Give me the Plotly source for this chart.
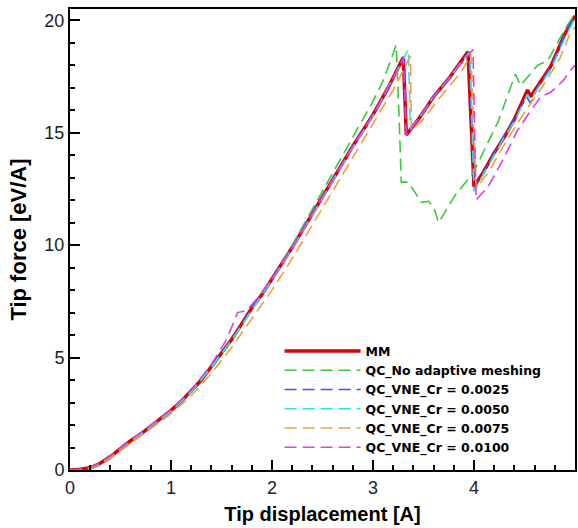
import plotly.graph_objects as go

# ---- data ----
mm_x = [0, 0.1, 0.2, 0.3, 0.4, 0.5, 0.6, 0.7, 0.8, 0.9, 1.0, 1.1, 1.2, 1.3, 1.4, 1.5, 1.6, 1.7, 1.8, 1.9,
        2.0, 2.2, 2.4, 2.6, 2.8, 3.0, 3.15, 3.30, 3.33, 3.45, 3.6, 3.75, 3.85, 3.94, 4.0, 4.1, 4.2, 4.3,
        4.4, 4.53, 4.56, 4.65, 4.76, 4.9, 5.0]
mm_y = [0, 0.03, 0.1, 0.3, 0.6, 0.95, 1.3, 1.6, 1.95, 2.3, 2.65, 3.05, 3.5, 4.0, 4.6, 5.2, 5.8, 6.5, 7.2, 7.8,
        8.5, 9.9, 11.4, 12.9, 14.4, 15.8, 17.0, 18.35, 14.9, 15.6, 16.6, 17.4, 18.0, 18.6, 12.6, 13.3, 14.1, 14.8,
        15.6, 16.9, 16.6, 17.2, 17.95, 19.4, 20.2]

no_x = [0, 0.2, 0.3, 0.4, 0.5, 0.6, 0.7, 0.8, 0.9, 1.0, 1.2, 1.4, 1.6, 1.8, 2.0, 2.2, 2.4, 2.6, 2.8, 3.0,
        3.1, 3.23, 3.26, 3.28, 3.35, 3.42, 3.48, 3.55, 3.6, 3.65, 3.81, 3.99, 4.24, 4.41, 4.46, 4.63, 4.73,
        4.9, 5.0]
no_y = [0, 0.05, 0.2, 0.5, 0.85, 1.2, 1.55, 1.9, 2.25, 2.6, 3.45, 4.55, 5.75, 7.1, 8.5, 10.0, 11.6, 13.2, 14.8, 16.4,
        17.3, 18.9, 15.5, 12.8, 12.8, 12.3, 11.9, 11.95, 11.7, 11.0, 12.2, 13.2, 15.5, 17.6, 17.1, 18.0, 18.2,
        19.6, 20.3]

c25_x = [0, 0.1, 0.2, 0.3, 0.4, 0.5, 0.6, 0.7, 0.8, 0.9, 1.0, 1.2, 1.4, 1.6, 1.8, 2.0, 2.2, 2.4, 2.6, 2.8,
         3.0, 3.15, 3.31, 3.33, 3.45, 3.6, 3.75, 3.85, 3.95, 4.0, 4.1, 4.2, 4.3, 4.4, 4.52, 4.56, 4.65, 4.76,
         4.9, 5.0]
c25_y = [0, 0.03, 0.1, 0.3, 0.62, 0.95, 1.28, 1.62, 1.95, 2.3, 2.62, 3.5, 4.6, 5.8, 7.15, 8.5, 9.9, 11.4, 12.9, 14.4,
         15.8, 17.0, 18.4, 14.9, 15.6, 16.6, 17.35, 18.0, 18.6, 12.5, 13.3, 14.1, 14.9, 15.6, 16.6, 16.3, 17.2, 17.9,
         19.4, 20.2]

c50_x = [0, 0.1, 0.2, 0.3, 0.4, 0.5, 0.6, 0.7, 0.8, 0.9, 1.0, 1.2, 1.4, 1.6, 1.8, 2.0, 2.2, 2.4, 2.6, 2.8,
         3.0, 3.2, 3.35, 3.37, 3.45, 3.6, 3.75, 3.85, 3.96, 4.0, 4.1, 4.2, 4.3, 4.4, 4.53, 4.56, 4.65, 4.76,
         4.9, 5.0]
c50_y = [0, 0.02, 0.1, 0.28, 0.6, 0.92, 1.28, 1.6, 1.95, 2.28, 2.62, 3.48, 4.58, 5.78, 7.1, 8.45, 9.85, 11.35, 12.85, 14.35,
         15.75, 17.4, 18.7, 15.2, 15.6, 16.6, 17.4, 18.0, 18.6, 12.4, 13.2, 14.0, 14.8, 15.5, 16.7, 16.5, 17.1, 17.8,
         19.2, 20.1]

c75_x = [0, 0.1, 0.2, 0.3, 0.4, 0.5, 0.6, 0.7, 0.8, 0.9, 1.0, 1.2, 1.4, 1.6, 1.8, 2.0, 2.2, 2.4, 2.6, 2.8,
         3.0, 3.2, 3.37, 3.38, 3.5, 3.65, 3.8, 3.9, 3.97, 4.02, 4.15, 4.33, 4.5, 4.7, 4.85, 4.95, 5.0]
c75_y = [0, 0.02, 0.08, 0.25, 0.52, 0.85, 1.2, 1.5, 1.85, 2.2, 2.5, 3.3, 4.3, 5.45, 6.7, 8.0, 9.4, 10.9, 12.4, 13.9,
         15.4, 16.9, 18.4, 15.1, 15.6, 16.5, 17.3, 17.9, 18.5, 12.5, 13.3, 14.7, 15.9, 17.2, 18.3, 19.4, 19.7]

c100_x = [0, 0.1, 0.2, 0.3, 0.4, 0.5, 0.6, 0.7, 0.8, 0.9, 1.0, 1.2, 1.4, 1.55, 1.66, 1.75, 1.85, 2.0, 2.2, 2.4,
          2.6, 2.8, 3.0, 3.15, 3.30, 3.33, 3.45, 3.6, 3.75, 3.88, 3.99, 4.02, 4.14, 4.3, 4.43, 4.55, 4.66, 4.76,
          4.88, 4.96, 5.0]
c100_y = [0, 0.03, 0.12, 0.32, 0.62, 0.98, 1.32, 1.65, 2.0, 2.32, 2.68, 3.55, 4.7, 5.8, 7.0, 7.1, 7.6, 8.5, 9.9, 11.4,
          12.9, 14.4, 15.8, 17.0, 18.3, 14.9, 15.6, 16.6, 17.4, 18.1, 18.7, 12.0, 12.6, 13.9, 15.1, 15.9, 16.6, 16.8,
          17.3, 17.8, 18.0]

series = [
    ("MM", mm_x, mm_y, "#dd0000", "solid", 3.5),
    ("QC_No adaptive meshing", no_x, no_y, "#3cc83c", "12px,6px", 1.6),
    ("QC_VNE_Cr = 0.0025", c25_x, c25_y, "#4a4aff", "12px,6px", 1.6),
    ("QC_VNE_Cr = 0.0050", c50_x, c50_y, "#3fdcdc", "12px,6px", 1.6),
    ("QC_VNE_Cr = 0.0075", c75_x, c75_y, "#f0a040", "12px,6px", 1.6),
    ("QC_VNE_Cr = 0.0100", c100_x, c100_y, "#e040e0", "12px,6px", 1.6),
]

fig = go.Figure()
for name, xs, ys, col, dash, w in series:
    fig.add_trace(go.Scatter(x=xs, y=ys, mode="lines", name=name,
                             line=dict(color=col, dash=dash, width=w)))

axis_common = dict(
    showline=True, linecolor="black", linewidth=2, mirror=True,
    ticks="inside", ticklen=10, tickwidth=2, tickcolor="black",
    showgrid=False, zeroline=False,
    tickfont=dict(family="Liberation Sans, Arial", size=18, color="#222"),
)

fig.update_xaxes(range=[0, 5], dtick=1, tick0=0,
                 minor=dict(dtick=0.2, ticks="inside", ticklen=5, tickwidth=1.5, tickcolor="black"),
                 title=dict(text="<b>Tip displacement [A]</b>", standoff=10,
                            font=dict(family="Liberation Sans, Arial", size=20, color="black")),
                 **axis_common)
fig.update_yaxes(range=[0, 20.5], dtick=5, tick0=0,
                 minor=dict(dtick=1, ticks="inside", ticklen=5, tickwidth=1.5, tickcolor="black"),
                 title=dict(text="<b>Tip force [eV/A]</b>", standoff=12,
                            font=dict(family="Liberation Sans, Arial", size=22, color="black")),
                 **axis_common)

fig.update_layout(
    width=578, height=528, autosize=False,
    margin=dict(l=70, r=1, t=9, b=58),
    plot_bgcolor="white", paper_bgcolor="white",
    legend=dict(x=0.415, y=0.29, xanchor="left", yanchor="top",
                bgcolor="rgba(0,0,0,0)", borderwidth=0,
                font=dict(family="DejaVu Sans", size=12.5, color="black", weight="bold"),
                itemwidth=76, tracegroupgap=0),
)

fig.write_html("out.html")
